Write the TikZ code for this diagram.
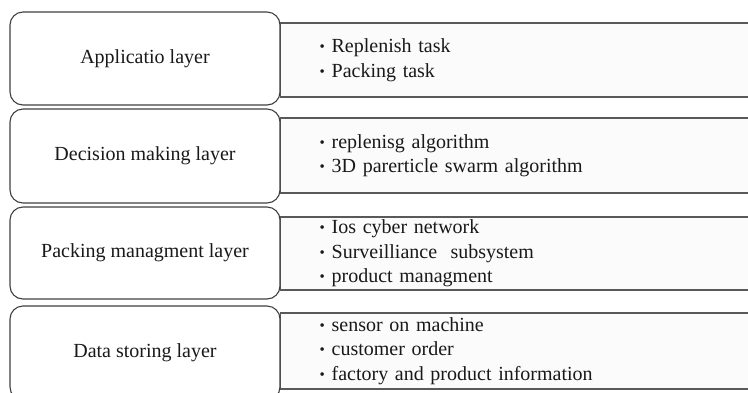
\documentclass[tikz,border=0pt]{standalone}
\usepackage{fontspec}
\setmainfont{Liberation Serif}
\begin{document}
\begin{tikzpicture}[x=1pt,y=-1pt,
  layerbox/.style={draw=black!75, line width=1.1pt, rounded corners=13pt, fill=white,
    minimum width=270pt, inner sep=0pt, font=\fontsize{20}{24}\selectfont, text=black!90},
  itembox/.style={draw=black!65, line width=1.3pt, fill=black!1.5, anchor=west,
    minimum width=472pt, text width=394pt, inner xsep=39pt, inner ysep=0pt, align=left,
    font=\fontsize{20}{24.5}\selectfont, text=black!90}]
\useasboundingbox (0,0) rectangle (748,392);
\newcommand{\bul}{\makebox[12pt][l]{\raisebox{1pt}{\fontsize{15}{15}\selectfont\textbullet}}}
% item rectangles
\node[itembox, minimum height=74pt] (r1) at (280,60) {\bul Replenish task\\\bul Packing task};
\node[itembox, minimum height=75pt] (r2) at (280,155.5) {\bul replenisg algorithm\\\bul 3D parerticle swarm algorithm};
\node[itembox, minimum height=73pt] (r3) at (280,253.5) {\bul Ios cyber network\\\bul Surveilliance\ \ subsystem\\\bul product managment};
\node[itembox, minimum height=76pt] (r4) at (280,351) {\bul sensor on machine\\\bul customer order\\\bul factory and product information};
% layer boxes
\node[layerbox, minimum height=93pt] (l1) at (145,58.5) {Applicatio layer};
\node[layerbox, minimum height=94pt] (l2) at (145,156) {Decision making layer};
\node[layerbox, minimum height=92pt] (l3) at (145,253) {Packing managment layer};
\node[layerbox, minimum height=94pt] (l4) at (145,353) {Data storing layer};
\end{tikzpicture}
\end{document}
